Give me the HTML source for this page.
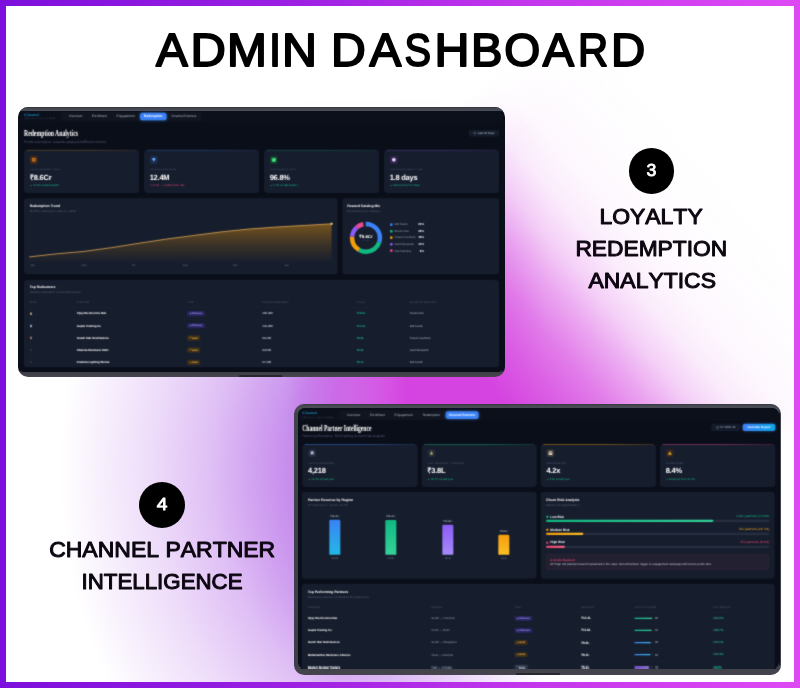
<!DOCTYPE html>
<html><head><meta charset="utf-8"><title>Admin Dashboard</title>
<style>
*{box-sizing:border-box;margin:0;padding:0}
html,body{width:800px;height:688px;overflow:hidden}
body{position:relative;background:linear-gradient(90deg,#7d0fdc 0%,#9a1fe2 35%,#c235ec 65%,#de49f4 100%);font-family:"Liberation Sans",sans-serif;}
#inner{position:absolute;left:6px;top:6px;width:788px;height:676px;overflow:hidden;background:#ffffff;}
#inner div{position:absolute;left:0;top:0;width:788px;height:676px}
.abs{position:absolute}
.circ{position:absolute;border-radius:50%;background:#000}
.device{position:absolute;border-radius:10px;overflow:hidden}
.screen{position:absolute;overflow:hidden;background:#0a0e19;border-radius:7px;filter:url(#soft)}
.dash{position:absolute;left:0;top:0;width:1452px;height:800px;transform:scale(0.333333);transform-origin:0 0;text-rendering:geometricPrecision;color:#fff;font-family:"Liberation Sans",sans-serif}
.dash div,.dash span{position:absolute;white-space:nowrap}
.nav{left:0;top:0;width:1452px;background:#0b101b;border-bottom:1px solid rgba(255,255,255,0.05)}
.logo{font-family:"Liberation Serif",serif;font-weight:bold;color:#1d80b2}
.logosub{color:#5b6880;letter-spacing:2.2px}
.navbox{background:#10151f;border-radius:9px}
.ni{color:#aab4c5;text-align:center;transform:translateX(-50%)}
.ni.act{color:#fff;background:#3b82f6;border-radius:8px;box-shadow:0 0 10px rgba(59,130,246,0.55);transform:none}
.h1{font-family:"Liberation Serif",serif;color:#fff;transform-origin:0 50%}
.sub{color:#525d73}
.btn{background:#141b2a;border:1px solid rgba(255,255,255,0.05);border-radius:7px;color:#b6c0d0;text-align:center}
.panel{background:#161d2d;border-radius:11px;border:1px solid rgba(255,255,255,0.03)}
.kpi{background:#161d2d;border-radius:11px;overflow:hidden}
.kpi .top{left:7px;right:7px;top:0;height:2.4px;opacity:0.75;border-radius:0 0 1px 1px}
.kpi .ico{border-radius:6px}
.kpi .l{color:#5b6880;letter-spacing:1.1px}
.kpi .v{font-weight:bold;color:#fff}
.kpi .d{color:#14b886}
.pt{font-weight:bold;color:#fff}
.th{color:#56627a;letter-spacing:1px}
.td{color:#c9d1de}
.tdb{color:#fff;font-weight:bold}
.badge{border-radius:4px;text-align:center}
.b-plat{background:#2a2560;color:#a79cf5;border:1px solid #3d3690}
.b-gold{background:#3d2f18;color:#f1b24a;border:1px solid #5e4417}
.b-silv{background:#2b3445;color:#c2cbd9;border:1px solid #3c475b}
</style></head>
<body>
<svg width="0" height="0" style="position:absolute"><defs><filter id="soft" x="0" y="0" width="100%" height="100%" color-interpolation-filters="sRGB"><feConvolveMatrix order="3" kernelMatrix="0.03 0.1 0.03 0.1 0.48 0.1 0.03 0.1 0.03" divisor="1" edgeMode="duplicate" preserveAlpha="true"/></filter></defs></svg>
<div id="inner"><div style="-webkit-mask-image:linear-gradient(90deg,#000 330px,transparent 540px);mask-image:linear-gradient(90deg,#000 330px,transparent 540px)"><div style="-webkit-mask-image:linear-gradient(180deg,transparent 90px,#000 300px);mask-image:linear-gradient(180deg,transparent 90px,#000 300px)"><div style="background:radial-gradient(ellipse 400px 450px at 444px 464px, rgba(170,84,228,0.72) 0.0%, rgba(170,84,228,0.70) 33.0%, rgba(170,84,228,0.67) 40.0%, rgba(170,84,228,0.53) 50.0%, rgba(170,84,228,0.37) 60.0%, rgba(170,84,228,0.20) 75.0%, rgba(170,84,228,0.09) 87.5%, rgba(170,84,228,0.00) 97.5%)"></div></div></div><div style="-webkit-mask-image:linear-gradient(90deg,transparent 280px,#000 400px);mask-image:linear-gradient(90deg,transparent 280px,#000 400px)"><div style="-webkit-mask-image:linear-gradient(180deg,#000 400px,transparent 436px);mask-image:linear-gradient(180deg,#000 400px,transparent 436px)"><div style="-webkit-mask-image:linear-gradient(139.2deg,transparent 36.2%,#000 42.1%);mask-image:linear-gradient(139.2deg,transparent 36.2%,#000 42.1%)"><div style="background:linear-gradient(49.2deg, rgba(213,68,224,1.00) 3.96%, rgba(213,68,224,1.00) 54.04%, rgba(213,68,224,0.85) 57.99%, rgba(213,68,224,0.70) 61.17%, rgba(213,68,224,0.48) 64.45%, rgba(213,68,224,0.25) 67.53%, rgba(213,68,224,0.10) 70.71%, rgba(213,68,224,0.04) 73.98%, rgba(213,68,224,0.01) 78.60%, rgba(213,68,224,0.00) 83.90%)"></div></div></div></div></div>
<div class="device" style="left:18px;top:107px;width:486.5px;height:269.6px;background:linear-gradient(180deg,#3d4049 0px,#3a3d46 3px,#0a0e19 5px,#0a0e19 263px,#3e3e47 265px,#46454f 269.6px);"><div class="screen" style="left:1px;top:3.3px;width:484px;height:261.5px;"><div class="dash" style=""><div class="nav" style="height:37px;"></div>
<div class="logo" style="top:7.09px;font-size:11.4px;line-height:14.82px;height:14.82px;left:15.5px;">iChannel</div>
<div class="logosub" style="top:23.6px;font-size:6px;line-height:7.8px;height:7.8px;left:15.5px;">LOYALTY PLATFORM</div>
<div class="navbox" style="left:126px;top:4.5px;width:423px;height:28px;"></div>
<div class="ni" style="top:14.26px;font-size:9.6px;line-height:12.48px;height:12.48px;left:170px;transform:translateX(-50%);">Overview</div>
<div class="ni" style="top:14.26px;font-size:9.6px;line-height:12.48px;height:12.48px;left:241px;transform:translateX(-50%);">Enrollment</div>
<div class="ni" style="top:14.26px;font-size:9.6px;line-height:12.48px;height:12.48px;left:320px;transform:translateX(-50%);">Engagement</div>
<div class="ni act" style="left:363px;top:7.5px;width:80px;height:23px;font-size:9.6px;line-height:23px;font-weight:bold;">Redemption</div>
<div class="ni" style="top:14.26px;font-size:9.6px;line-height:12.48px;height:12.48px;left:495px;transform:translateX(-50%);">Channel Partners</div>
<div class="h1" style="top:52.45px;font-size:27px;line-height:35.1px;height:35.1px;left:15px;font-weight:bold;transform:scaleX(0.637);">Redemption Analytics</div>
<div class="sub" style="top:89.5px;font-size:10px;line-height:13px;height:13px;left:15px;">Points redemption, rewards catalog &amp; fulfillment metrics</div>
<div class="btn" style="left:1350px;top:59px;width:90px;height:21px;font-size:8.6px;line-height:19px;"><span style="position:static;display:inline-block;width:7px;height:7px;border:1px solid #9aa5b8;border-radius:1.5px;vertical-align:-1px;margin-right:5px"></span>Last 90 Days</div>
<div class="kpi" style="left:15px;top:119px;width:345px;height:130px;"><div class="top" style="background:linear-gradient(90deg,#f59e0b 0%,#f59e0b 55%,rgba(0,0,0,0) 130%);"></div><div class="ico" style="left:17px;top:18px;width:25px;height:25px;background:#3f2a18;"><div style="left:-0px;top:-0px;width:25px;height:25px"><svg style="position:absolute;left:0;top:0" width="25" height="25" viewBox="0 0 25 25"><circle cx="12.5" cy="12.5" r="6" fill="#f08a24"/><circle cx="12.5" cy="12.5" r="3" fill="#7a3a10"/></svg></div></div><div class="l" style="top:56.71px;font-size:6.6px;line-height:8.58px;height:8.58px;left:18px;">TOTAL REDEMPTIONS</div><div class="v" style="top:67.88px;font-size:22.5px;line-height:29.25px;height:29.25px;left:17px;letter-spacing:-0.7px;">₹8.6Cr</div><div class="d" style="top:101.54px;font-size:8.4px;line-height:10.92px;height:10.92px;left:18px;color:#14b886;"><span style="position:static;font-size:6.5px">▲</span> 21.3% vs last quarter</div></div>
<div class="kpi" style="left:375px;top:119px;width:345px;height:130px;"><div class="top" style="background:linear-gradient(90deg,#3b82f6 0%,#3b82f6 55%,rgba(0,0,0,0) 130%);"></div><div class="ico" style="left:17px;top:18px;width:25px;height:25px;background:#1b2b4d;"><div style="left:-0px;top:-0px;width:25px;height:25px"><svg style="position:absolute;left:0;top:0" width="25" height="25" viewBox="0 0 25 25"><path d="M7.5 10 L10 7 H15 L17.5 10 L12.5 18 Z" fill="#5aa9ff"/><path d="M7.5 10 H17.5" stroke="#cfe6ff" stroke-width="1"/></svg></div></div><div class="l" style="top:56.71px;font-size:6.6px;line-height:8.58px;height:8.58px;left:18px;">POINTS REDEEMED</div><div class="v" style="top:67.88px;font-size:22.5px;line-height:29.25px;height:29.25px;left:17px;letter-spacing:-0.7px;">12.4M</div><div class="d" style="top:101.54px;font-size:8.4px;line-height:10.92px;height:10.92px;left:18px;color:#e0446e;"><span style="position:static;font-size:6.5px">▼</span> 6.2% — healthy burn rate</div></div>
<div class="kpi" style="left:735px;top:119px;width:345px;height:130px;"><div class="top" style="background:linear-gradient(90deg,#10b981 0%,#10b981 55%,rgba(0,0,0,0) 130%);"></div><div class="ico" style="left:17px;top:18px;width:25px;height:25px;background:#123a2a;"><div style="left:-0px;top:-0px;width:25px;height:25px"><svg style="position:absolute;left:0;top:0" width="25" height="25" viewBox="0 0 25 25"><rect x="6" y="6" width="13" height="13" rx="2" fill="#22c55e"/><path d="M9 12.5 L11.7 15.2 L16.2 9.8" stroke="#eafff0" stroke-width="2" fill="none"/></svg></div></div><div class="l" style="top:56.71px;font-size:6.6px;line-height:8.58px;height:8.58px;left:18px;">FULFILLMENT RATE</div><div class="v" style="top:67.88px;font-size:22.5px;line-height:29.25px;height:29.25px;left:17px;letter-spacing:-0.7px;">96.8%</div><div class="d" style="top:101.54px;font-size:8.4px;line-height:10.92px;height:10.92px;left:18px;color:#14b886;"><span style="position:static;font-size:6.5px">▲</span> 1.4% vs last quarter</div></div>
<div class="kpi" style="left:1095px;top:119px;width:345px;height:130px;"><div class="top" style="background:linear-gradient(90deg,#8b5cf6 0%,#8b5cf6 55%,rgba(0,0,0,0) 130%);"></div><div class="ico" style="left:17px;top:18px;width:25px;height:25px;background:#2c2546;"><div style="left:-0px;top:-0px;width:25px;height:25px"><svg style="position:absolute;left:0;top:0" width="25" height="25" viewBox="0 0 25 25"><circle cx="12.5" cy="12.5" r="6" fill="#c9a7f5"/><circle cx="12.5" cy="12.5" r="3.4" fill="#f5eefe"/></svg></div></div><div class="l" style="top:56.71px;font-size:6.6px;line-height:8.58px;height:8.58px;left:18px;">AVG FULFILLMENT TIME</div><div class="v" style="top:67.88px;font-size:22.5px;line-height:29.25px;height:29.25px;left:17px;letter-spacing:-0.7px;">1.8 days</div><div class="d" style="top:101.54px;font-size:8.4px;line-height:10.92px;height:10.92px;left:18px;color:#14b886;"><span style="position:static;font-size:6.5px">▲</span> Improved by 0.4 days</div></div>
<div class="panel" style="left:15px;top:264.5px;width:941px;height:228px;"></div>
<div class="pt" style="top:282.74px;font-size:10.4px;line-height:13.52px;height:13.52px;left:32px;">Redemption Trend</div>
<div class="sub" style="top:297.28px;font-size:8.8px;line-height:11.44px;height:11.44px;left:32px;">Monthly redemption value (₹ Lakhs)</div>
<svg style="position:absolute;left:0;top:0" width="1452" height="784" viewBox="0 0 1452 784"><defs><linearGradient id="ag" x1="0" y1="0" x2="0" y2="1"><stop offset="0" stop-color="#f59e0b" stop-opacity="0.42"/><stop offset="0.55" stop-color="#f59e0b" stop-opacity="0.16"/><stop offset="1" stop-color="#f59e0b" stop-opacity="0"/></linearGradient></defs><path d="M30.6 440.8 L113.1 431.5 L195.6 424.3 L278.1 412.9 L360.6 399.7 L443.1 387.1 L525.6 376.3 L608.1 365.5 L690.6 357.1 L773.1 351.1 L855.6 346.3 L937.8 341.5 L937.8 458.8 L30.6 458.8 Z" fill="url(#ag)"/><path d="M30.6 440.8 L113.1 431.5 L195.6 424.3 L278.1 412.9 L360.6 399.7 L443.1 387.1 L525.6 376.3 L608.1 365.5 L690.6 357.1 L773.1 351.1 L855.6 346.3 L937.8 341.5" fill="none" stroke="#e3aa55" stroke-width="2.4" stroke-linejoin="round"/><circle cx="937.8" cy="341.5" r="3.5" fill="#ffd58a"/></svg>
<div class="sub" style="top:462px;font-size:8px;line-height:10.4px;height:10.4px;left:41.1px;transform:translateX(-50%);color:#65718a;">Mar</div>
<div class="sub" style="top:462px;font-size:8px;line-height:10.4px;height:10.4px;left:195px;transform:translateX(-50%);color:#65718a;">May</div>
<div class="sub" style="top:462px;font-size:8px;line-height:10.4px;height:10.4px;left:343.5px;transform:translateX(-50%);color:#65718a;">Jul</div>
<div class="sub" style="top:462px;font-size:8px;line-height:10.4px;height:10.4px;left:498px;transform:translateX(-50%);color:#65718a;">Sep</div>
<div class="sub" style="top:462px;font-size:8px;line-height:10.4px;height:10.4px;left:649.5px;transform:translateX(-50%);color:#65718a;">Nov</div>
<div class="sub" style="top:462px;font-size:8px;line-height:10.4px;height:10.4px;left:802.5px;transform:translateX(-50%);color:#65718a;">Jan</div>
<div class="panel" style="left:970px;top:264.5px;width:470px;height:228px;"></div>
<div class="pt" style="top:282.74px;font-size:10.4px;line-height:13.52px;height:13.52px;left:985px;">Reward Catalog Mix</div>
<div class="sub" style="top:297.28px;font-size:8.8px;line-height:11.44px;height:11.44px;left:985px;">Redemptions by category</div>
<svg style="position:absolute;left:0;top:0" width="1452" height="784" viewBox="0 0 1452 784"><circle cx="1041" cy="383.5" r="41.8" fill="none" stroke="#222a3c" stroke-width="13.4"/><circle cx="1041" cy="383.5" r="41.8" fill="none" stroke="#3b82f6" stroke-width="13.4" stroke-dasharray="78.79 183.85" stroke-dashoffset="-0.00" transform="rotate(-90 1041 383.5)"/><circle cx="1041" cy="383.5" r="41.8" fill="none" stroke="#10b981" stroke-width="13.4" stroke-dasharray="73.54 189.10" stroke-dashoffset="-78.79" transform="rotate(-90 1041 383.5)"/><circle cx="1041" cy="383.5" r="41.8" fill="none" stroke="#f59e0b" stroke-width="13.4" stroke-dasharray="47.27 215.36" stroke-dashoffset="-152.33" transform="rotate(-90 1041 383.5)"/><circle cx="1041" cy="383.5" r="41.8" fill="none" stroke="#8b5cf6" stroke-width="13.4" stroke-dasharray="31.52 231.12" stroke-dashoffset="-199.60" transform="rotate(-90 1041 383.5)"/><circle cx="1041" cy="383.5" r="41.8" fill="none" stroke="#ec4899" stroke-width="13.4" stroke-dasharray="21.01 241.63" stroke-dashoffset="-231.12" transform="rotate(-90 1041 383.5)"/></svg>
<div class="pt" style="top:372.05px;font-size:13px;line-height:16.9px;height:16.9px;left:1041px;transform:translateX(-50%);">₹8.6Cr</div>
<div class="sub" style="top:388.43px;font-size:5.5px;line-height:7.15px;height:7.15px;left:1041px;transform:translateX(-50%);letter-spacing:0.8px;">TOTAL</div>
<div style="left:1113px;top:340px;width:8px;height:8px;border-radius:50%;background:#3b82f6;"></div>
<div class="td" style="top:338.28px;font-size:8.8px;line-height:11.44px;height:11.44px;left:1126.5px;color:#8f9aae;">Gift Cards</div>
<div class="tdb" style="top:338.28px;font-size:8.8px;line-height:11.44px;height:11.44px;right:237px;text-align:right;">30%</div>
<div style="left:1113px;top:359.6px;width:8px;height:8px;border-radius:50%;background:#10b981;"></div>
<div class="td" style="top:357.88px;font-size:8.8px;line-height:11.44px;height:11.44px;left:1126.5px;color:#8f9aae;">Electronics</div>
<div class="tdb" style="top:357.88px;font-size:8.8px;line-height:11.44px;height:11.44px;right:237px;text-align:right;">28%</div>
<div style="left:1113px;top:379.2px;width:8px;height:8px;border-radius:50%;background:#f59e0b;"></div>
<div class="td" style="top:377.48px;font-size:8.8px;line-height:11.44px;height:11.44px;left:1126.5px;color:#8f9aae;">Travel Vouchers</div>
<div class="tdb" style="top:377.48px;font-size:8.8px;line-height:11.44px;height:11.44px;right:237px;text-align:right;">18%</div>
<div style="left:1113px;top:398.8px;width:8px;height:8px;border-radius:50%;background:#8b5cf6;"></div>
<div class="td" style="top:397.08px;font-size:8.8px;line-height:11.44px;height:11.44px;left:1126.5px;color:#8f9aae;">Cash Rewards</div>
<div class="tdb" style="top:397.08px;font-size:8.8px;line-height:11.44px;height:11.44px;right:237px;text-align:right;">12%</div>
<div style="left:1113px;top:418.4px;width:8px;height:8px;border-radius:50%;background:#ec4899;"></div>
<div class="td" style="top:416.68px;font-size:8.8px;line-height:11.44px;height:11.44px;left:1126.5px;color:#8f9aae;">Merchandise</div>
<div class="tdb" style="top:416.68px;font-size:8.8px;line-height:11.44px;height:11.44px;right:237px;text-align:right;">8%</div>
<div class="panel" style="left:15px;top:510px;width:1425px;height:262px;"></div>
<div class="pt" style="top:525.74px;font-size:10.4px;line-height:13.52px;height:13.52px;left:32px;">Top Redeemers</div>
<div class="sub" style="top:540.28px;font-size:8.8px;line-height:11.44px;height:11.44px;left:32px;">Highest redemption volume this quarter</div>
<div class="th" style="top:574.21px;font-size:6.6px;line-height:8.58px;height:8.58px;left:32px;">RANK</div>
<div class="th" style="top:574.21px;font-size:6.6px;line-height:8.58px;height:8.58px;left:173.4px;">PARTNER</div>
<div class="th" style="top:574.21px;font-size:6.6px;line-height:8.58px;height:8.58px;left:505px;">TIER</div>
<div class="th" style="top:574.21px;font-size:6.6px;line-height:8.58px;height:8.58px;left:730px;">POINTS REDEEMED</div>
<div class="th" style="top:574.21px;font-size:6.6px;line-height:8.58px;height:8.58px;left:1013px;">VALUE</div>
<div class="th" style="top:574.21px;font-size:6.6px;line-height:8.58px;height:8.58px;left:1172.4px;">FAVORITE REWARD</div>
<div style="left:32px;top:592px;width:1391px;height:1px;background:rgba(255,255,255,0.05);"></div>
<div style="left:33.5px;top:606.4px;width:4px;height:4px;background:#5b7fc9;border-radius:1px;"></div>
<div style="left:32.5px;top:609.4px;width:6px;height:6px;border-radius:50%;background:#f5c542;opacity:0.9;"></div>
<div class="tdb" style="top:605.25px;font-size:8.7px;line-height:11.31px;height:11.31px;left:173.4px;">Vijay Electronics Hub</div>
<div class="badge b-plat" style="left:505px;top:603.9px;width:52px;height:14px;font-size:7.4px;line-height:12px;font-weight:bold;"><span style="position:static;font-size:5.5px;vertical-align:0.5px">◆</span> Platinum</div>
<div class="td" style="top:605.31px;font-size:8.6px;line-height:11.18px;height:11.18px;left:730px;color:#e4e9f1;">185,400</div>
<div class="td" style="top:605.31px;font-size:8.6px;line-height:11.18px;height:11.18px;left:1013px;color:#16b58a;font-weight:bold;">₹18.5L</div>
<div class="td" style="top:605.31px;font-size:8.6px;line-height:11.18px;height:11.18px;left:1172.4px;color:#aeb8c8;">Electronics</div>
<div style="left:32px;top:628.9px;width:1391px;height:1px;background:rgba(255,255,255,0.03);"></div>
<div style="left:33.5px;top:642.85px;width:4px;height:4px;background:#5b7fc9;border-radius:1px;"></div>
<div style="left:32.5px;top:645.85px;width:6px;height:6px;border-radius:50%;background:#cfd6e0;opacity:0.9;"></div>
<div class="tdb" style="top:641.7px;font-size:8.7px;line-height:11.31px;height:11.31px;left:173.4px;">Gupta Trading Co</div>
<div class="badge b-plat" style="left:505px;top:640.35px;width:52px;height:14px;font-size:7.4px;line-height:12px;font-weight:bold;"><span style="position:static;font-size:5.5px;vertical-align:0.5px">◆</span> Platinum</div>
<div class="td" style="top:641.76px;font-size:8.6px;line-height:11.18px;height:11.18px;left:730px;color:#e4e9f1;">142,800</div>
<div class="td" style="top:641.76px;font-size:8.6px;line-height:11.18px;height:11.18px;left:1013px;color:#16b58a;font-weight:bold;">₹14.3L</div>
<div class="td" style="top:641.76px;font-size:8.6px;line-height:11.18px;height:11.18px;left:1172.4px;color:#aeb8c8;">Gift Cards</div>
<div style="left:32px;top:665.35px;width:1391px;height:1px;background:rgba(255,255,255,0.03);"></div>
<div style="left:33.5px;top:679.3px;width:4px;height:4px;background:#5b7fc9;border-radius:1px;"></div>
<div style="left:32.5px;top:682.3px;width:6px;height:6px;border-radius:50%;background:#d08a4a;opacity:0.9;"></div>
<div class="tdb" style="top:678.14px;font-size:8.7px;line-height:11.31px;height:11.31px;left:173.4px;">South Star Distributors</div>
<div class="badge b-gold" style="left:505px;top:676.8px;width:38px;height:14px;font-size:7.4px;line-height:12px;font-weight:bold;"><span style="position:static;font-size:5.5px;vertical-align:0.5px">★</span> Gold</div>
<div class="td" style="top:678.21px;font-size:8.6px;line-height:11.18px;height:11.18px;left:730px;color:#e4e9f1;">98,200</div>
<div class="td" style="top:678.21px;font-size:8.6px;line-height:11.18px;height:11.18px;left:1013px;color:#16b58a;font-weight:bold;">₹9.8L</div>
<div class="td" style="top:678.21px;font-size:8.6px;line-height:11.18px;height:11.18px;left:1172.4px;color:#aeb8c8;">Travel Vouchers</div>
<div style="left:32px;top:701.8px;width:1391px;height:1px;background:rgba(255,255,255,0.03);"></div>
<div class="sub" style="top:714.27px;font-size:9.2px;line-height:11.96px;height:11.96px;left:33px;">4</div>
<div class="tdb" style="top:714.6px;font-size:8.7px;line-height:11.31px;height:11.31px;left:173.4px;">Sharma Hardware Mart</div>
<div class="badge b-gold" style="left:505px;top:713.25px;width:38px;height:14px;font-size:7.4px;line-height:12px;font-weight:bold;"><span style="position:static;font-size:5.5px;vertical-align:0.5px">★</span> Gold</div>
<div class="td" style="top:714.66px;font-size:8.6px;line-height:11.18px;height:11.18px;left:730px;color:#e4e9f1;">84,500</div>
<div class="td" style="top:714.66px;font-size:8.6px;line-height:11.18px;height:11.18px;left:1013px;color:#16b58a;font-weight:bold;">₹8.5L</div>
<div class="td" style="top:714.66px;font-size:8.6px;line-height:11.18px;height:11.18px;left:1172.4px;color:#aeb8c8;">Cash Rewards</div>
<div style="left:32px;top:738.25px;width:1391px;height:1px;background:rgba(255,255,255,0.03);"></div>
<div class="sub" style="top:750.72px;font-size:9.2px;line-height:11.96px;height:11.96px;left:33px;">5</div>
<div class="tdb" style="top:751.05px;font-size:8.7px;line-height:11.31px;height:11.31px;left:173.4px;">Krishna Lighting Works</div>
<div class="badge b-gold" style="left:505px;top:749.7px;width:38px;height:14px;font-size:7.4px;line-height:12px;font-weight:bold;"><span style="position:static;font-size:5.5px;vertical-align:0.5px">★</span> Gold</div>
<div class="td" style="top:751.11px;font-size:8.6px;line-height:11.18px;height:11.18px;left:730px;color:#e4e9f1;">67,300</div>
<div class="td" style="top:751.11px;font-size:8.6px;line-height:11.18px;height:11.18px;left:1013px;color:#16b58a;font-weight:bold;">₹6.7L</div>
<div class="td" style="top:751.11px;font-size:8.6px;line-height:11.18px;height:11.18px;left:1172.4px;color:#aeb8c8;">Gift Cards</div></div></div><div class="abs" style="left:0;top:0;width:486.5px;height:4.3px;background:linear-gradient(180deg,#30323a 0px,#42444e 1.2px,#4a4c57 3.6px,#3a3c46 4.3px);"></div><div class="abs" style="left:221px;top:267.6px;width:43px;height:2px;background:#26282e;border-radius:1px 1px 0 0;"></div></div>
<div class="device" style="left:294px;top:404.3px;width:486.9px;height:270.8px;background:linear-gradient(180deg,#33353d 0px,#44464f 1.2px,#4a4c56 4px,#40424c 10px,#3c3f49 262px,#42424b 266px,#46454f 270.8px);"><div class="screen" style="left:3.7px;top:4.2px;width:481.2px;height:260.6px;"><div class="dash" style=""><div class="nav" style="height:35.5px;"></div>
<div class="logo" style="top:9.29px;font-size:11.4px;line-height:14.82px;height:14.82px;left:12.5px;">iChannel</div>
<div class="logosub" style="top:25.8px;font-size:6px;line-height:7.8px;height:7.8px;left:12.5px;">LOYALTY PLATFORM</div>
<div class="navbox" style="left:123px;top:6.7px;width:423px;height:28px;"></div>
<div class="ni" style="top:16.46px;font-size:9.6px;line-height:12.48px;height:12.48px;left:167px;transform:translateX(-50%);">Overview</div>
<div class="ni" style="top:16.46px;font-size:9.6px;line-height:12.48px;height:12.48px;left:238px;transform:translateX(-50%);">Enrollment</div>
<div class="ni" style="top:16.46px;font-size:9.6px;line-height:12.48px;height:12.48px;left:317px;transform:translateX(-50%);">Engagement</div>
<div class="ni" style="top:16.46px;font-size:9.6px;line-height:12.48px;height:12.48px;left:400px;transform:translateX(-50%);">Redemption</div>
<div class="ni act" style="left:442.5px;top:9.7px;width:99px;height:23px;font-size:9.6px;line-height:23px;font-weight:bold;">Channel Partners</div>
<div class="h1" style="top:42.85px;font-size:27px;line-height:35.1px;height:35.1px;left:13px;font-weight:bold;transform:scaleX(0.62);">Channel Partner Intelligence</div>
<div class="sub" style="top:76.5px;font-size:10px;line-height:13px;height:13px;left:13px;">Partner performance, ROI tracking &amp; churn risk analysis</div>
<div class="btn" style="left:1240px;top:46.5px;width:87px;height:22px;font-size:8.6px;line-height:20px;"><span style="position:static;display:inline-block;width:7px;height:7px;border:1px solid #9aa5b8;border-radius:1.5px;vertical-align:-1px;margin-right:5px"></span>FY 2025-26</div>
<div style="left:1334px;top:46.5px;width:98px;height:22px;border-radius:7px;background:linear-gradient(90deg,#3b82f6,#0ea5e9);box-shadow:0 0 9px rgba(59,130,246,0.5);color:#fff;font-weight:bold;font-size:8.8px;line-height:22px;text-align:center;">Generate Report</div>
<div class="kpi" style="left:13px;top:109px;width:345.5px;height:127.5px;"><div class="top" style="background:linear-gradient(90deg,#3b82f6 0%,#3b82f6 55%,rgba(0,0,0,0) 130%);"></div><div class="ico" style="left:18px;top:15px;width:23px;height:23px;background:#232c3f;"><div style="left:-1px;top:-1px;width:25px;height:25px"><svg style="position:absolute;left:0;top:0" width="25" height="25" viewBox="0 0 25 25"><path d="M8 7 H17 V18 L12.5 15 L8 18 Z" fill="#aeb9cc"/></svg></div></div><div class="l" style="top:52.71px;font-size:6.6px;line-height:8.58px;height:8.58px;left:18px;">ACTIVE PARTNERS</div><div class="v" style="top:63.88px;font-size:22.5px;line-height:29.25px;height:29.25px;left:17px;letter-spacing:-0.7px;">4,218</div><div class="d" style="top:97.54px;font-size:8.4px;line-height:10.92px;height:10.92px;left:18px;color:#14b886;"><span style="position:static;font-size:6.5px">▲</span> 12.5% vs last year</div></div>
<div class="kpi" style="left:370.7px;top:109px;width:345.5px;height:127.5px;"><div class="top" style="background:linear-gradient(90deg,#10b981 0%,#10b981 55%,rgba(0,0,0,0) 130%);"></div><div class="ico" style="left:18px;top:15px;width:23px;height:23px;background:#232c3f;"><div style="left:-1px;top:-1px;width:25px;height:25px"><svg style="position:absolute;left:0;top:0" width="25" height="25" viewBox="0 0 25 25"><path d="M12.5 6 C15 9 16.5 11.5 16.5 14 A4 4 0 0 1 8.5 14 C8.5 11.5 10 9 12.5 6 Z" fill="#b59a4a"/></svg></div></div><div class="l" style="top:52.71px;font-size:6.6px;line-height:8.58px;height:8.58px;left:18px;">AVG. REVENUE / PARTNER</div><div class="v" style="top:63.88px;font-size:22.5px;line-height:29.25px;height:29.25px;left:17px;letter-spacing:-0.7px;">₹3.8L</div><div class="d" style="top:97.54px;font-size:8.4px;line-height:10.92px;height:10.92px;left:18px;color:#14b886;"><span style="position:static;font-size:6.5px">▲</span> 18.7% vs last year</div></div>
<div class="kpi" style="left:728.3px;top:109px;width:345.5px;height:127.5px;"><div class="top" style="background:linear-gradient(90deg,#f59e0b 0%,#f59e0b 55%,rgba(0,0,0,0) 130%);"></div><div class="ico" style="left:18px;top:15px;width:23px;height:23px;background:#3a3836;"><div style="left:-1px;top:-1px;width:25px;height:25px"><svg style="position:absolute;left:0;top:0" width="25" height="25" viewBox="0 0 25 25"><rect x="7" y="7" width="11" height="11" rx="1.5" fill="#d8d2c4"/><rect x="9" y="9" width="7" height="3" fill="#7c6a4a"/></svg></div></div><div class="l" style="top:52.71px;font-size:6.6px;line-height:8.58px;height:8.58px;left:18px;">PROGRAM ROI</div><div class="v" style="top:63.88px;font-size:22.5px;line-height:29.25px;height:29.25px;left:17px;letter-spacing:-0.7px;">4.2x</div><div class="d" style="top:97.54px;font-size:8.4px;line-height:10.92px;height:10.92px;left:18px;color:#14b886;"><span style="position:static;font-size:6.5px">▲</span> 0.8x vs last year</div></div>
<div class="kpi" style="left:1086px;top:109px;width:345.5px;height:127.5px;"><div class="top" style="background:linear-gradient(90deg,#ec4899 0%,#ec4899 55%,rgba(0,0,0,0) 130%);"></div><div class="ico" style="left:18px;top:15px;width:23px;height:23px;background:#33261f;"><div style="left:-1px;top:-1px;width:25px;height:25px"><svg style="position:absolute;left:0;top:0" width="25" height="25" viewBox="0 0 25 25"><path d="M12.5 6.5 L18.5 17.5 H6.5 Z" fill="#f7b731"/><rect x="11.8" y="10.5" width="1.4" height="4" fill="#3a2a08"/><rect x="11.8" y="15.3" width="1.4" height="1.4" fill="#3a2a08"/></svg></div></div><div class="l" style="top:52.71px;font-size:6.6px;line-height:8.58px;height:8.58px;left:18px;">CHURN RISK</div><div class="v" style="top:63.88px;font-size:22.5px;line-height:29.25px;height:29.25px;left:17px;letter-spacing:-0.7px;">8.4%</div><div class="d" style="top:97.54px;font-size:8.4px;line-height:10.92px;height:10.92px;left:18px;color:#14b886;"><span style="position:static;font-size:6.5px">▲</span> Reduced from 11.2%</div></div>
<div class="panel" style="left:11.4px;top:250.5px;width:705px;height:261.5px;"></div>
<div class="pt" style="top:270.24px;font-size:10.4px;line-height:13.52px;height:13.52px;left:29.7px;">Partner Revenue by Region</div>
<div class="sub" style="top:284.78px;font-size:8.8px;line-height:11.44px;height:11.44px;left:29.7px;">FY revenue in ₹ Crores, FY 25</div>
<div style="left:94px;top:334.5px;width:33px;height:105px;border-radius:4px 4px 1px 1px;background:linear-gradient(180deg,#3b82f6,#22b8e6);"></div>
<div class="td" style="top:319.56px;font-size:7.6px;line-height:9.88px;height:9.88px;left:110.5px;transform:translateX(-50%);color:#aeb8c8;font-weight:bold;">₹18.4Cr</div>
<div class="sub" style="top:445.6px;font-size:8px;line-height:10.4px;height:10.4px;left:110.5px;transform:translateX(-50%);color:#6b768c;">South</div>
<div style="left:262px;top:335.5px;width:33px;height:104px;border-radius:4px 4px 1px 1px;background:linear-gradient(180deg,#10b981,#34d399);"></div>
<div class="td" style="top:320.56px;font-size:7.6px;line-height:9.88px;height:9.88px;left:278.5px;transform:translateX(-50%);color:#aeb8c8;font-weight:bold;">₹18.2Cr</div>
<div class="sub" style="top:445.6px;font-size:8px;line-height:10.4px;height:10.4px;left:278.5px;transform:translateX(-50%);color:#6b768c;">North</div>
<div style="left:433px;top:349.5px;width:33px;height:90px;border-radius:4px 4px 1px 1px;background:linear-gradient(180deg,#8b5cf6,#a78bfa);"></div>
<div class="td" style="top:334.56px;font-size:7.6px;line-height:9.88px;height:9.88px;left:449.5px;transform:translateX(-50%);color:#aeb8c8;font-weight:bold;">₹14.6Cr</div>
<div class="sub" style="top:445.6px;font-size:8px;line-height:10.4px;height:10.4px;left:449.5px;transform:translateX(-50%);color:#6b768c;">West</div>
<div style="left:601px;top:379.5px;width:33px;height:60px;border-radius:4px 4px 1px 1px;background:linear-gradient(180deg,#f59e0b,#fbbf24);"></div>
<div class="td" style="top:364.56px;font-size:7.6px;line-height:9.88px;height:9.88px;left:617.5px;transform:translateX(-50%);color:#aeb8c8;font-weight:bold;">₹9.8Cr</div>
<div class="sub" style="top:445.6px;font-size:8px;line-height:10.4px;height:10.4px;left:617.5px;transform:translateX(-50%);color:#6b768c;">East</div>
<div class="panel" style="left:728px;top:250.5px;width:702px;height:261.5px;"></div>
<div class="pt" style="top:270.24px;font-size:10.4px;line-height:13.52px;height:13.52px;left:743.7px;">Churn Risk Analysis</div>
<div class="sub" style="top:284.78px;font-size:8.8px;line-height:11.44px;height:11.44px;left:743.7px;">Partner risk segmentation</div>
<div style="left:744.5px;top:323px;width:6px;height:6px;border-radius:1.5px;background:#10b981;"></div>
<div class="tdb" style="top:319.89px;font-size:9.4px;line-height:12.22px;height:12.22px;left:757px;">Low Risk</div>
<div class="td" style="top:319.56px;font-size:9.9px;line-height:12.87px;height:12.87px;right:38px;text-align:right;color:#14b886;">3,162 partners (74.9%)</div>
<div style="left:743.7px;top:334.5px;width:670.3px;height:7px;border-radius:3.5px;background:#262e40;"></div>
<div style="left:743.7px;top:334.5px;width:502px;height:7px;border-radius:3.5px;background:linear-gradient(90deg,#10b981,#34d399);"></div>
<div style="left:744.5px;top:362px;width:6px;height:6px;border-radius:1.5px;background:#f59e0b;"></div>
<div class="tdb" style="top:358.89px;font-size:9.4px;line-height:12.22px;height:12.22px;left:757px;">Medium Risk</div>
<div class="td" style="top:358.56px;font-size:9.9px;line-height:12.87px;height:12.87px;right:38px;text-align:right;color:#f0a31c;">702 partners (16.7%)</div>
<div style="left:743.7px;top:373.5px;width:670.3px;height:7px;border-radius:3.5px;background:#262e40;"></div>
<div style="left:743.7px;top:373.5px;width:112px;height:7px;border-radius:3.5px;background:linear-gradient(90deg,#f59e0b,#fbbf24);"></div>
<div style="left:744.5px;top:400.5px;width:6px;height:6px;border-radius:1.5px;background:#e8446a;"></div>
<div class="tdb" style="top:397.39px;font-size:9.4px;line-height:12.22px;height:12.22px;left:757px;">High Risk</div>
<div class="td" style="top:397.06px;font-size:9.9px;line-height:12.87px;height:12.87px;right:38px;text-align:right;color:#e8446a;">354 partners (8.4%)</div>
<div style="left:743.7px;top:412.5px;width:670.3px;height:7px;border-radius:3.5px;background:#262e40;"></div>
<div style="left:743.7px;top:412.5px;width:57px;height:7px;border-radius:3.5px;background:linear-gradient(90deg,#e8446a,#f4617f);"></div>
<div style="left:743.7px;top:436.5px;width:670.3px;height:49px;border-radius:7px;background:rgba(232,68,106,0.065);border:1px solid rgba(232,68,106,0.10);"></div>
<div class="td" style="top:449.54px;font-size:8.4px;line-height:10.92px;height:10.92px;left:756px;color:#e8446a;font-weight:bold;">⚠ Action Required</div>
<div class="td" style="top:463.41px;font-size:8.6px;line-height:11.18px;height:11.18px;left:756px;color:#c3cbd8;">357 high-risk partners haven't transacted in 45+ days. Recommended: trigger re-engagement campaign with bonus points offer.</div>
<div class="panel" style="left:11.4px;top:528px;width:1418.6px;height:300px;"></div>
<div class="pt" style="top:546.24px;font-size:10.4px;line-height:13.52px;height:13.52px;left:29px;">Top Performing Partners</div>
<div class="sub" style="top:561.28px;font-size:8.8px;line-height:11.44px;height:11.44px;left:29px;">Ranked by revenue contribution &amp; loyalty score</div>
<div class="th" style="top:594.21px;font-size:6.6px;line-height:8.58px;height:8.58px;left:29px;">PARTNER</div>
<div class="th" style="top:594.21px;font-size:6.6px;line-height:8.58px;height:8.58px;left:400px;">REGION</div>
<div class="th" style="top:594.21px;font-size:6.6px;line-height:8.58px;height:8.58px;left:650px;">TIER</div>
<div class="th" style="top:594.21px;font-size:6.6px;line-height:8.58px;height:8.58px;left:850px;">REVENUE</div>
<div class="th" style="top:594.21px;font-size:6.6px;line-height:8.58px;height:8.58px;left:1009px;">LOYALTY SCORE</div>
<div class="th" style="top:594.21px;font-size:6.6px;line-height:8.58px;height:8.58px;left:1244.7px;">YOY GROWTH</div>
<div style="left:29px;top:611.5px;width:1384px;height:1px;background:rgba(255,255,255,0.05);"></div>
<div class="tdb" style="top:625.35px;font-size:8.7px;line-height:11.31px;height:11.31px;left:29px;">Vijay Electronics Hub</div>
<div class="td" style="top:625.28px;font-size:8.8px;line-height:11.44px;height:11.44px;left:400px;color:#8f9bb0;">South — Chennai</div>
<div class="badge b-plat" style="left:650px;top:624px;width:52px;height:14px;font-size:7.4px;line-height:12px;font-weight:bold;"><span style="position:static;font-size:5.5px;vertical-align:0.5px">◆</span> Platinum</div>
<div class="tdb" style="top:624.89px;font-size:9.4px;line-height:12.22px;height:12.22px;left:850px;">₹12.4L</div>
<div style="left:1009px;top:629px;width:56px;height:4px;border-radius:2px;background:#262e40;"></div>
<div style="left:1009px;top:629px;width:53.76px;height:4px;border-radius:2px;background:linear-gradient(90deg,#10b981,#34d399);"></div>
<div class="td" style="top:625.54px;font-size:8.4px;line-height:10.92px;height:10.92px;left:1071px;color:#aeb8c8;">96</div>
<div class="td" style="top:625.02px;font-size:9.2px;line-height:11.96px;height:11.96px;left:1244.7px;color:#16b58a;font-weight:bold;">+24.2%</div>
<div style="left:29px;top:649px;width:1384px;height:1px;background:rgba(255,255,255,0.03);"></div>
<div class="tdb" style="top:661.8px;font-size:8.7px;line-height:11.31px;height:11.31px;left:29px;">Gupta Trading Co</div>
<div class="td" style="top:661.73px;font-size:8.8px;line-height:11.44px;height:11.44px;left:400px;color:#8f9bb0;">North — Delhi</div>
<div class="badge b-plat" style="left:650px;top:660.45px;width:52px;height:14px;font-size:7.4px;line-height:12px;font-weight:bold;"><span style="position:static;font-size:5.5px;vertical-align:0.5px">◆</span> Platinum</div>
<div class="tdb" style="top:661.34px;font-size:9.4px;line-height:12.22px;height:12.22px;left:850px;">₹11.8L</div>
<div style="left:1009px;top:665.45px;width:56px;height:4px;border-radius:2px;background:#262e40;"></div>
<div style="left:1009px;top:665.45px;width:51.52px;height:4px;border-radius:2px;background:linear-gradient(90deg,#10b981,#34d399);"></div>
<div class="td" style="top:661.99px;font-size:8.4px;line-height:10.92px;height:10.92px;left:1071px;color:#aeb8c8;">92</div>
<div class="td" style="top:661.47px;font-size:9.2px;line-height:11.96px;height:11.96px;left:1244.7px;color:#16b58a;font-weight:bold;">+18.7%</div>
<div style="left:29px;top:685.45px;width:1384px;height:1px;background:rgba(255,255,255,0.03);"></div>
<div class="tdb" style="top:698.25px;font-size:8.7px;line-height:11.31px;height:11.31px;left:29px;">South Star Distributors</div>
<div class="td" style="top:698.18px;font-size:8.8px;line-height:11.44px;height:11.44px;left:400px;color:#8f9bb0;">South — Bangalore</div>
<div class="badge b-gold" style="left:650px;top:696.9px;width:38px;height:14px;font-size:7.4px;line-height:12px;font-weight:bold;"><span style="position:static;font-size:5.5px;vertical-align:0.5px">★</span> Gold</div>
<div class="tdb" style="top:697.79px;font-size:9.4px;line-height:12.22px;height:12.22px;left:850px;">₹9.6L</div>
<div style="left:1009px;top:701.9px;width:56px;height:4px;border-radius:2px;background:#262e40;"></div>
<div style="left:1009px;top:701.9px;width:49.28px;height:4px;border-radius:2px;background:linear-gradient(90deg,#3b82f6,#38bdf8);"></div>
<div class="td" style="top:698.44px;font-size:8.4px;line-height:10.92px;height:10.92px;left:1071px;color:#aeb8c8;">88</div>
<div class="td" style="top:697.92px;font-size:9.2px;line-height:11.96px;height:11.96px;left:1244.7px;color:#16b58a;font-weight:bold;">+12.1%</div>
<div style="left:29px;top:721.9px;width:1384px;height:1px;background:rgba(255,255,255,0.03);"></div>
<div class="tdb" style="top:734.7px;font-size:8.7px;line-height:11.31px;height:11.31px;left:29px;">Maharashtra Hardware Alliance</div>
<div class="td" style="top:734.63px;font-size:8.8px;line-height:11.44px;height:11.44px;left:400px;color:#8f9bb0;">West — Mumbai</div>
<div class="badge b-gold" style="left:650px;top:733.35px;width:38px;height:14px;font-size:7.4px;line-height:12px;font-weight:bold;"><span style="position:static;font-size:5.5px;vertical-align:0.5px">★</span> Gold</div>
<div class="tdb" style="top:734.24px;font-size:9.4px;line-height:12.22px;height:12.22px;left:850px;">₹8.2L</div>
<div style="left:1009px;top:738.35px;width:56px;height:4px;border-radius:2px;background:#262e40;"></div>
<div style="left:1009px;top:738.35px;width:47.6px;height:4px;border-radius:2px;background:linear-gradient(90deg,#3b82f6,#38bdf8);"></div>
<div class="td" style="top:734.89px;font-size:8.4px;line-height:10.92px;height:10.92px;left:1071px;color:#aeb8c8;">85</div>
<div class="td" style="top:734.37px;font-size:9.2px;line-height:11.96px;height:11.96px;left:1244.7px;color:#16b58a;font-weight:bold;">+15.4%</div>
<div style="left:29px;top:758.35px;width:1384px;height:1px;background:rgba(255,255,255,0.03);"></div>
<div class="tdb" style="top:771.14px;font-size:8.7px;line-height:11.31px;height:11.31px;left:29px;">Eastern Bengal Traders</div>
<div class="td" style="top:771.08px;font-size:8.8px;line-height:11.44px;height:11.44px;left:400px;color:#8f9bb0;">East — Kolkata</div>
<div class="badge b-silv" style="left:650px;top:769.8px;width:40px;height:14px;font-size:7.4px;line-height:12px;font-weight:bold;"><span style="position:static;font-size:5.5px;vertical-align:0.5px">●</span> Silver</div>
<div class="tdb" style="top:770.69px;font-size:9.4px;line-height:12.22px;height:12.22px;left:850px;">₹6.1L</div>
<div style="left:1009px;top:774.8px;width:56px;height:4px;border-radius:2px;background:#262e40;"></div>
<div style="left:1009px;top:774.8px;width:43.68px;height:4px;border-radius:2px;background:linear-gradient(90deg,#8b5cf6,#a78bfa);"></div>
<div class="td" style="top:771.34px;font-size:8.4px;line-height:10.92px;height:10.92px;left:1071px;color:#aeb8c8;">78</div>
<div class="td" style="top:770.82px;font-size:9.2px;line-height:11.96px;height:11.96px;left:1244.7px;color:#16b58a;font-weight:bold;">+8.9%</div></div></div><div class="abs" style="left:222px;top:268.8px;width:44px;height:2px;background:#26282e;border-radius:1px 1px 0 0;"></div></div>
<div class="circ" style="left:628.6px;top:147.8px;width:45.8px;height:45.8px;"></div>
<div class="circ" style="left:139px;top:481.7px;width:46px;height:46px;"></div>
<svg id="ov" width="800" height="688" viewBox="0 0 800 688" style="position:absolute;left:0;top:0;font-family:'Liberation Sans',sans-serif"><text transform="translate(155.88 66.05) scale(1.0202 1)" font-size="46.66" font-weight="normal" fill="#000" stroke="#000" stroke-width="1.9" stroke-linejoin="round">A</text><text transform="translate(190.48 66.05) scale(1.0496 1)" font-size="46.66" font-weight="normal" fill="#000" stroke="#000" stroke-width="1.9" stroke-linejoin="round">D</text><text transform="translate(227.05 66.05) scale(1.0269 1)" font-size="46.66" font-weight="normal" fill="#000" stroke="#000" stroke-width="1.9" stroke-linejoin="round">M</text><text transform="translate(268.89 66.05) scale(0.9278 1)" font-size="46.66" font-weight="normal" fill="#000" stroke="#000" stroke-width="1.9" stroke-linejoin="round">I</text><text transform="translate(282.02 66.05) scale(1.0371 1)" font-size="46.66" font-weight="normal" fill="#000" stroke="#000" stroke-width="1.9" stroke-linejoin="round">N</text><text transform="translate(331.03 66.05) scale(1.0327 1)" font-size="46.66" font-weight="normal" fill="#000" stroke="#000" stroke-width="1.9" stroke-linejoin="round">D</text><text transform="translate(369.38 66.05) scale(1.0202 1)" font-size="46.66" font-weight="normal" fill="#000" stroke="#000" stroke-width="1.9" stroke-linejoin="round">A</text><text transform="translate(404.50 66.05) scale(0.8519 1)" font-size="46.66" font-weight="normal" fill="#000" stroke="#000" stroke-width="1.9" stroke-linejoin="round">S</text><text transform="translate(434.52 66.05) scale(1.0371 1)" font-size="46.66" font-weight="normal" fill="#000" stroke="#000" stroke-width="1.9" stroke-linejoin="round">H</text><text transform="translate(471.09 66.05) scale(1.0100 1)" font-size="46.66" font-weight="normal" fill="#000" stroke="#000" stroke-width="1.9" stroke-linejoin="round">B</text><text transform="translate(504.25 66.05) scale(0.9926 1)" font-size="46.66" font-weight="normal" fill="#000" stroke="#000" stroke-width="1.9" stroke-linejoin="round">O</text><text transform="translate(542.86 66.05) scale(1.0049 1)" font-size="46.66" font-weight="normal" fill="#000" stroke="#000" stroke-width="1.9" stroke-linejoin="round">A</text><text transform="translate(577.92 66.05) scale(0.8952 1)" font-size="46.66" font-weight="normal" fill="#000" stroke="#000" stroke-width="1.9" stroke-linejoin="round">R</text><text transform="translate(611.08 66.05) scale(1.0158 1)" font-size="46.66" font-weight="normal" fill="#000" stroke="#000" stroke-width="1.9" stroke-linejoin="round">D</text><text transform="translate(646.54 175.70) scale(1.0221 1)" font-size="17.30" font-weight="normal" fill="#fff" stroke="#fff" stroke-width="0.8" stroke-linejoin="round">3</text><text transform="translate(599.39 224.30) scale(1.0528 1)" font-size="21.80" font-weight="normal" fill="#0c0610" stroke="#0c0610" stroke-width="1.0" stroke-linejoin="round" style="font-kerning:none">LOYALTY</text><text transform="translate(575.40 256.10) scale(1.0452 1)" font-size="21.80" font-weight="normal" fill="#0c0610" stroke="#0c0610" stroke-width="1.0" stroke-linejoin="round" style="font-kerning:none">REDEMPTION</text><text transform="translate(588.48 287.90) scale(1.0527 1)" font-size="21.80" font-weight="normal" fill="#0c0610" stroke="#0c0610" stroke-width="1.0" stroke-linejoin="round" style="font-kerning:none">ANALYTICS</text><text transform="translate(156.81 509.70) scale(1.1226 1)" font-size="17.15" font-weight="normal" fill="#fff" stroke="#fff" stroke-width="0.8" stroke-linejoin="round">4</text><text transform="translate(49.16 557.30) scale(1.0474 1)" font-size="21.95" font-weight="normal" fill="#0c0610" stroke="#0c0610" stroke-width="1.0" stroke-linejoin="round" style="font-kerning:none">CHANNEL PARTNER</text><text transform="translate(81.55 589.30) scale(1.0161 1)" font-size="21.95" font-weight="normal" fill="#0c0610" stroke="#0c0610" stroke-width="1.0" stroke-linejoin="round" style="font-kerning:none">INTELLIGENCE</text></svg>
</body></html>
